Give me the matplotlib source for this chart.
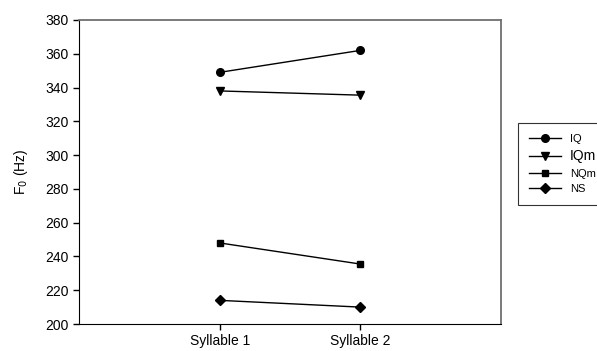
import matplotlib.pyplot as plt

plt.rcParams['font.family'] = ['Liberation Sans', 'DejaVu Sans']

syllables = ['Syllable 1', 'Syllable 2']
x_pos = [1, 2]
iq = [349, 362]
iqm = [338, 335.5]
nqm = [248, 235.5]
ns = [214, 210]

fig = plt.figure(figsize=(5.97, 3.51), dpi=100)
ax = fig.add_axes([79 / 597, 1 - 324 / 351, 422 / 597, 304 / 351])

kw = dict(color='black', linewidth=1.0)
ax.plot(x_pos, iq, marker='o', markersize=5.5, label='IQ', **kw)
ax.plot(x_pos, iqm, marker='v', markersize=6, label='IQm', **kw)
ax.plot(x_pos, nqm, marker='s', markersize=5, label='NQm', **kw)
ax.plot(x_pos, ns, marker='D', markersize=5, label='NS', **kw)

ax.set_xlim(0, 3)
ax.set_ylim(200, 380)
ax.set_yticks(range(200, 381, 20))
ax.set_xticks(x_pos)
ax.set_xticklabels(syllables)
ax.tick_params(direction='out', length=4.5, width=1, labelsize=10, colors='black', pad=3)
ax.set_ylabel('F$_0$ (Hz)', fontsize=10)
ax.yaxis.set_label_coords(-0.116, 0.5)

for s in ['top', 'right']:
    ax.spines[s].set_color('#707070')
    ax.spines[s].set_linewidth(1.3)
for s in ['left', 'bottom']:
    ax.spines[s].set_color('black')

# legend box runs off the right edge of the figure
leg = ax.legend(loc='upper left', bbox_to_anchor=(518 / 597, 1 - 123 / 351),
                bbox_transform=fig.transFigure, fontsize=8, frameon=True,
                fancybox=False, edgecolor='black', borderpad=0.95, borderaxespad=0,
                handlelength=2.9, labelspacing=0.5, handletextpad=0.8)
leg.get_frame().set_linewidth(0.8)
leg.get_texts()[1].set_fontsize(10)

fig.savefig('out.png', dpi=100)
